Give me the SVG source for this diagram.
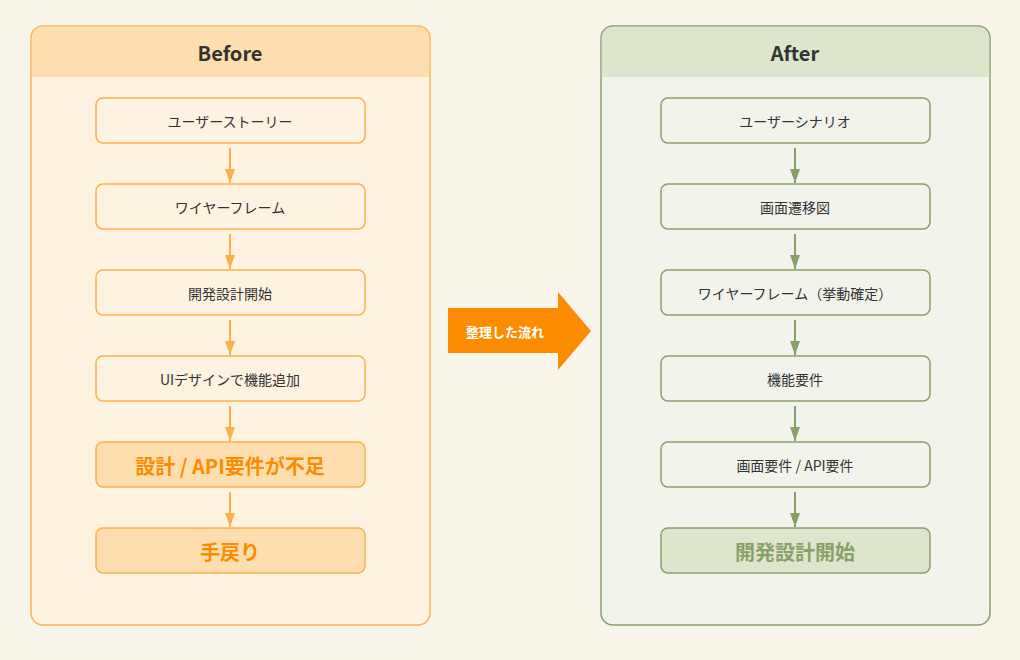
<svg xmlns="http://www.w3.org/2000/svg" width="1020" height="660" viewBox="0 0 1020 660">
<style>
text{font-family:"Noto Sans CJK JP","Noto Sans",sans-serif;text-anchor:middle;dominant-baseline:central}
.b{fill:#fef3e0;stroke:#fbb14b;stroke-width:1.5}
.bh{fill:#fedeae;stroke:#fbb14b;stroke-width:1.5}
.g{fill:#f2f4ec;stroke:#8aa06b;stroke-width:1.5}
.gh{fill:#dde6cc;stroke:#8aa06b;stroke-width:1.5}
.t{font-size:14px;fill:#333}
.h{font-size:20px;font-weight:bold;fill:#333}
.ot{font-size:20px;font-weight:bold;fill:#fb8c00}
.gt{font-size:20px;font-weight:bold;fill:#8aa06b}
.ol{stroke:#fbb14b;stroke-width:2}
.gl{stroke:#8aa06b;stroke-width:2}
</style>
<defs>
<marker id="ao" markerWidth="14" markerHeight="10" refX="14" refY="5" orient="auto" markerUnits="userSpaceOnUse"><path d="M0,0L14,5L0,10z" fill="#fbb14b"/></marker>
<marker id="ag" markerWidth="14" markerHeight="10" refX="14" refY="5" orient="auto" markerUnits="userSpaceOnUse"><path d="M0,0L14,5L0,10z" fill="#8aa06b"/></marker>
</defs>
<rect width="1020" height="660" fill="#faf5eb"/>
<g id="before">
<rect x="31" y="26" width="399" height="599" rx="12" fill="#fef3e0" stroke="#fbb14b" stroke-width="1.5"/>
<path d="M31.75,77V38a11.25,11.25 0 0 1 11.25,-11.25H418a11.25,11.25 0 0 1 11.25,11.25V77z" fill="#fedeae"/>
<text class="h" x="230" y="52">Before</text>
</g>
<g id="after">
<rect x="601" y="26" width="389" height="599" rx="12" fill="#f2f4ec" stroke="#8aa06b" stroke-width="1.5"/>
<path d="M601.75,77V38a11.25,11.25 0 0 1 11.25,-11.25H978a11.25,11.25 0 0 1 11.25,11.25V77z" fill="#dde6cc"/>
<text class="h" x="795" y="52">After</text>
</g>
<g id="connectors">
<line class="ol" x1="230" y1="148" x2="230" y2="183" marker-end="url(#ao)"/>
<line class="ol" x1="230" y1="234" x2="230" y2="269" marker-end="url(#ao)"/>
<line class="ol" x1="230" y1="320" x2="230" y2="355" marker-end="url(#ao)"/>
<line class="ol" x1="230" y1="406" x2="230" y2="441" marker-end="url(#ao)"/>
<line class="ol" x1="230" y1="492" x2="230" y2="527" marker-end="url(#ao)"/>
<line class="gl" x1="795" y1="148" x2="795" y2="183" marker-end="url(#ag)"/>
<line class="gl" x1="795" y1="234" x2="795" y2="269" marker-end="url(#ag)"/>
<line class="gl" x1="795" y1="320" x2="795" y2="355" marker-end="url(#ag)"/>
<line class="gl" x1="795" y1="406" x2="795" y2="441" marker-end="url(#ag)"/>
<line class="gl" x1="795" y1="492" x2="795" y2="527" marker-end="url(#ag)"/>
</g>
<g id="b1"><rect class="b" x="96" y="98" width="269" height="45" rx="7"/><text class="t" x="230" y="121">ユーザーストーリー</text></g>
<g id="b2"><rect class="b" x="96" y="184" width="269" height="45" rx="7"/><text class="t" x="230" y="207">ワイヤーフレーム</text></g>
<g id="b3"><rect class="b" x="96" y="270" width="269" height="45" rx="7"/><text class="t" x="230" y="293">開発設計開始</text></g>
<g id="b4"><rect class="b" x="96" y="356" width="269" height="45" rx="7"/><text class="t" x="230" y="379">UIデザインで機能追加</text></g>
<g id="b5"><rect class="bh" x="96" y="442" width="269" height="45" rx="7"/><text class="ot" x="230" y="465">設計 / API要件が不足</text></g>
<g id="b6"><rect class="bh" x="96" y="528" width="269" height="45" rx="7"/><text class="ot" x="230" y="551">手戻り</text></g>
<g id="a1"><rect class="g" x="661" y="98" width="269" height="45" rx="7"/><text class="t" x="795" y="121">ユーザーシナリオ</text></g>
<g id="a2"><rect class="g" x="661" y="184" width="269" height="45" rx="7"/><text class="t" x="795" y="207">画面遷移図</text></g>
<g id="a3"><rect class="g" x="661" y="270" width="269" height="45" rx="7"/><text class="t" x="795" y="293">ワイヤーフレーム（挙動確定）</text></g>
<g id="a4"><rect class="g" x="661" y="356" width="269" height="45" rx="7"/><text class="t" x="795" y="379">機能要件</text></g>
<g id="a5"><rect class="g" x="661" y="442" width="269" height="45" rx="7"/><text class="t" x="795" y="465">画面要件 / API要件</text></g>
<g id="a6"><rect class="gh" x="661" y="528" width="269" height="45" rx="7"/><text class="gt" x="795" y="551">開発設計開始</text></g>
<g id="flow">
<path d="M448,308H558V292L591,331L558,370V353H448z" fill="#fb8c00"/>
<text x="505" y="331" style="font-size:13px;font-weight:bold;fill:#fff">整理した流れ</text>
</g>
</svg>
